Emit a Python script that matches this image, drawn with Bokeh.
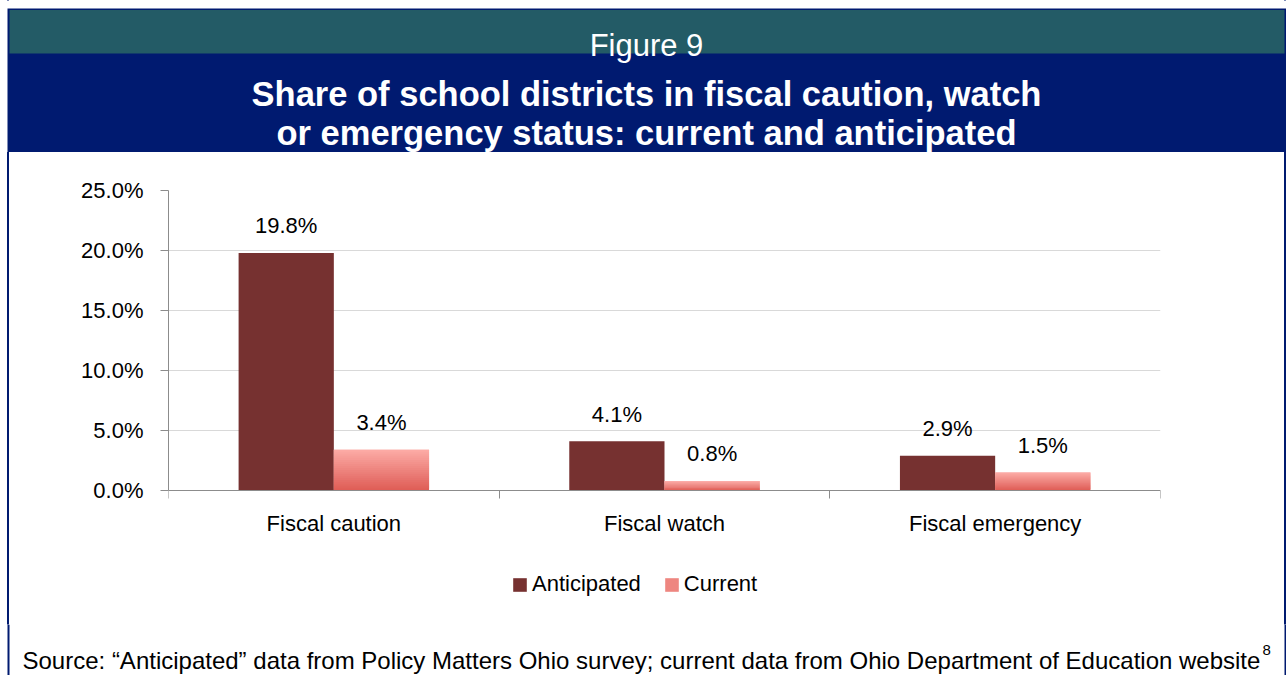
import numpy as np
from bokeh.plotting import figure
from bokeh.layouts import column
from bokeh.models import (ColumnDataSource, Range1d, FixedTicker, NumeralTickFormatter,
                          Legend, LegendItem)
from bokeh.embed import file_html
from bokeh.resources import INLINE
from bokeh.core.properties import value

# ---------------- data ----------------
categories = ["Fiscal caution", "Fiscal watch", "Fiscal emergency"]
anticipated = [0.198, 0.041, 0.029]
current = [0.034, 0.008, 0.015]
series_names = ["Anticipated", "Current"]
y_ticks = [0.0, 0.05, 0.10, 0.15, 0.20, 0.25]
figure_label = "Figure 9"
title_lines = ["Share of school districts in fiscal caution, watch",
               "or emergency status: current and anticipated"]
source_text = ("Source: \u201cAnticipated\u201d data from Policy Matters Ohio survey; "
               "current data from Ohio Department of Education website")
source_note = "8"

# ---------------- layout / style ----------------
W, H = 1286, 675
HDR_H = 152          # header block height
MAIN_H = 472         # chart block height
BOT_H = H - HDR_H - MAIN_H
FL, FR, FT, FB = 168, 1160, 190, 490   # plot-area edges in page pixels
MAIN_BOTTOM = HDR_H + MAIN_H
FONT = "Liberation Sans"
NAVY = "#001a70"
TEAL = "#235b66"
ANT = "#763130"
CUR_TOP = np.array([252, 170, 165])
CUR_BOT = np.array([223, 94, 87])
GRID = "#d9d9d9"
AXIS = "#8c8c8c"
BW = 0.288
OFF = 0.144
NSL = 20


def canvas_fig(w, h, x0, y0):
    """A figure whose frame is the whole canvas, in page pixel coordinates."""
    f = figure(width=w, height=h, x_range=Range1d(x0, x0 + w), y_range=Range1d(y0 + h, y0),
               output_backend="svg", toolbar_location=None,
               x_axis_location=None, y_axis_location=None,
               min_border_left=0, min_border_right=0, min_border_top=0, min_border_bottom=0)
    f.frame_align = False
    f.xgrid.visible = False
    f.ygrid.visible = False
    f.outline_line_color = None
    f.background_fill_color = "white"
    f.border_fill_color = "white"
    return f


# ---------------- header ----------------
hdr = canvas_fig(W, HDR_H, 0, 0)
hdr.quad(left=[7], right=[1286], top=[8], bottom=[HDR_H], fill_color=NAVY, line_color=None)
hdr.quad(left=[9], right=[1284], top=[9.5], bottom=[53], fill_color=TEAL, line_color=None)
hdr.text(x=[646], y=[45], text=[figure_label], text_align="center", text_baseline="alphabetic",
         text_font=value(FONT), text_font_size="31px", text_color="white")
hdr.text(x=[646, 646], y=[93, 132], text=title_lines, text_align="center",
         text_baseline="alphabetic", text_font=value(FONT), text_font_size="34.5px",
         text_font_style="bold", text_color="white")

# ---------------- main chart ----------------
n = len(categories)
centers = [i + 0.5 for i in range(n)]
edges = [float(i) for i in range(n + 1)]

# the frame runs down to the bottom of this block; the value axis keeps 0..25%
# between FB and FT, the room below zero holds the category labels and legend
y_per_px = (y_ticks[-1] - y_ticks[0]) / (FB - FT)
y_start = y_ticks[0] - (MAIN_BOTTOM - FB) * y_per_px

p = figure(width=W, height=MAIN_H, x_range=Range1d(0, n), y_range=Range1d(y_start, y_ticks[-1]),
           output_backend="svg", toolbar_location=None,
           min_border_left=FL, min_border_right=W - FR,
           min_border_top=FT - HDR_H, min_border_bottom=0)
p.frame_align = False
p.outline_line_color = None
p.background_fill_color = None
p.border_fill_color = None

src = ColumnDataSource(dict(
    x_ant=[c - OFF for c in centers], x_cur=[c + OFF for c in centers],
    ant=anticipated, cur=current,
    ant_lbl=[f"{v * 100:.1f}%" for v in anticipated],
    cur_lbl=[f"{v * 100:.1f}%" for v in current],
))
r_ant = p.vbar(x="x_ant", top="ant", width=BW, source=src, fill_color=ANT, line_color=None)

# current bars: vertical gradient made of overlapping slices of each value
gx, gb, gt, gc = [], [], [], []
for c, v in zip(centers, current):
    for i in range(NSL):
        f = i / (NSL - 1)
        rgb = (CUR_BOT + (CUR_TOP - CUR_BOT) * f).round().astype(int)
        gx.append(c + OFF)
        gb.append(v * i / NSL)
        gt.append(v * min(i + 2.0, NSL) / NSL)
        gc.append("#%02x%02x%02x" % tuple(rgb))
gsrc = ColumnDataSource(dict(x=gx, bottom=gb, top=gt, color=gc))
r_cur = p.vbar(x="x", bottom="bottom", top="top", width=BW, source=gsrc,
               fill_color="color", line_color=None)

for xcol, ycol, tcol in (("x_ant", "ant", "ant_lbl"), ("x_cur", "cur", "cur_lbl")):
    p.text(x=xcol, y=ycol, text=tcol, source=src, text_align="center",
           text_baseline="middle", y_offset=-27, text_font=value(FONT),
           text_font_size="22px", text_color="black")

ya = p.yaxis[0]
ya.ticker = FixedTicker(ticks=y_ticks)
ya.formatter = NumeralTickFormatter(format="0.0%")
ya.bounds = (y_ticks[0], y_ticks[-1])
ya.axis_line_color = AXIS
ya.major_tick_line_color = AXIS
ya.major_tick_out = 8
ya.major_tick_in = 0
ya.minor_tick_line_color = None
ya.major_label_text_font = FONT
ya.major_label_text_font_size = "22px"
ya.major_label_text_color = "black"
ya.major_label_standoff = 17

xa = p.xaxis[0]
xa.fixed_location = 0
xa.bounds = (0, n)
xa.ticker = FixedTicker(ticks=centers, minor_ticks=edges)
xa.major_label_overrides = {c: name for c, name in zip(centers, categories)}
xa.axis_line_color = AXIS
xa.major_tick_line_color = None
xa.major_tick_out = 0
xa.major_tick_in = 0
xa.minor_tick_line_color = AXIS
xa.minor_tick_out = 8
xa.minor_tick_in = 0
xa.major_label_text_font = FONT
xa.major_label_text_font_size = "22px"
xa.major_label_text_color = "black"
xa.major_label_standoff = 12

p.xgrid.visible = False
p.ygrid.grid_line_color = GRID
p.ygrid.grid_line_width = 1
p.ygrid.bounds = (0, n)

legend = Legend(items=[LegendItem(label=series_names[0], renderers=[r_ant]),
                       LegendItem(label=series_names[1], renderers=[r_cur], index=NSL // 2)],
                orientation="horizontal", location=(511 - FL, MAIN_BOTTOM - 597),
                glyph_width=17, glyph_height=17, label_standoff=4, spacing=22,
                padding=0, margin=0, border_line_color=None, background_fill_alpha=0,
                label_text_font=FONT, label_text_font_size="22px", label_text_color="black")
p.add_layout(legend, "center")

# ---------------- bottom (source) ----------------
bot = canvas_fig(W, BOT_H, 0, MAIN_BOTTOM)
bot.quad(left=[7, 1284], right=[9, 1286], top=[MAIN_BOTTOM] * 2, bottom=[H] * 2,
         fill_color=NAVY, line_color=None)
bot.text(x=[22], y=[660], text=[source_text], text_align="left", text_baseline="alphabetic",
         text_font=value(FONT), text_font_size="24px", text_color="black")
bot.text(x=[1262], y=[649], text=[source_note], text_align="left", text_baseline="alphabetic",
         text_font=value(FONT), text_font_size="15px", text_color="black")

side_lines = ("linear-gradient(to right, #ffffff 0px, #ffffff 7px, %s 7px, %s 9px, "
              "#ffffff 9px, #ffffff 1284px, %s 1284px, %s 1286px)" % (NAVY, NAVY, NAVY, NAVY))
layout = column(hdr, p, bot, styles={"background": side_lines})
open("out.html", "w").write(file_html(layout, INLINE))
